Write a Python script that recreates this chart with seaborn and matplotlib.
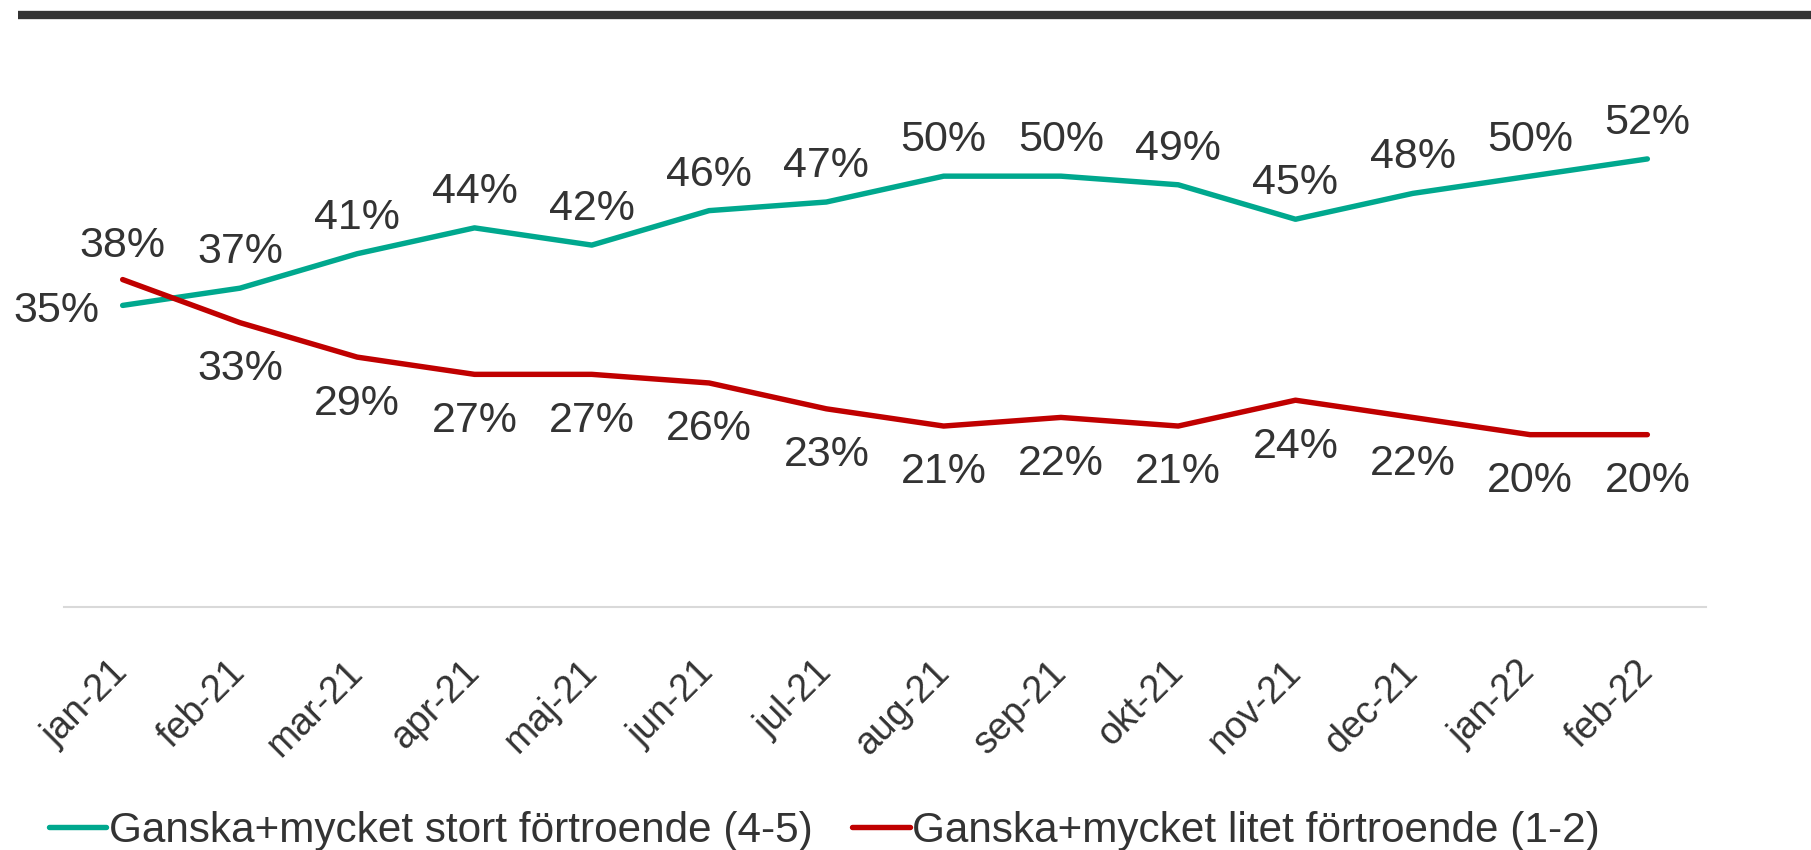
import matplotlib
matplotlib.use("Agg")

import pandas as pd
import matplotlib.pyplot as plt
from matplotlib.lines import Line2D
import seaborn as sns

MONTHS = ["jan-21", "feb-21", "mar-21", "apr-21", "maj-21", "jun-21", "jul-21",
          "aug-21", "sep-21", "okt-21", "nov-21", "dec-21", "jan-22", "feb-22"]
STORT = [35, 37, 41, 44, 42, 46, 47, 50, 50, 49, 45, 48, 50, 52]
LITET = [38, 33, 29, 27, 27, 26, 23, 21, 22, 21, 24, 22, 20, 20]
SERIES = ["Ganska+mycket stort förtroende (4-5)", "Ganska+mycket litet förtroende (1-2)"]
COLORS = ["#00A88E", "#C00000"]
TEXT = "#333333"

W, H = 1811, 850

df = pd.DataFrame({
    "month": MONTHS * 2,
    "value": STORT + LITET,
    "series": [SERIES[0]] * len(MONTHS) + [SERIES[1]] * len(MONTHS),
})

sns.set_theme(style="white")
plt.rcParams["font.family"] = ["Liberation Sans", "DejaVu Sans"]
plt.rcParams["text.color"] = TEXT

fig = plt.figure(figsize=(W / 100, H / 100), dpi=100)
ax = fig.add_axes([64 / W, 1 - 607 / H, (1706 - 64) / W, 517 / H])

sns.lineplot(data=df, x="month", y="value", hue="series", hue_order=SERIES,
             palette=COLORS, sort=False, linewidth=3.9, legend=False, ax=ax)
for line in ax.lines:
    line.set_solid_capstyle("round")

ax.set_xlim(-0.5, len(MONTHS) - 0.5)
ax.set_ylim(0, 60)
ax.set_xlabel("")
ax.set_ylabel("")
ax.set_yticks([])
for side in ["top", "left", "right"]:
    ax.spines[side].set_visible(False)
ax.spines["bottom"].set_color("#D9D9D9")
ax.spines["bottom"].set_linewidth(1.5)

ax.tick_params(axis="x", length=0, pad=43, labelsize=27, labelcolor=TEXT)
for lbl in ax.get_xticklabels():
    lbl.set_rotation(45)
    lbl.set_ha("right")
    lbl.set_va("center")
    lbl.set_rotation_mode("anchor")

# data labels: green above, red below (first month shifted to avoid overlap)
LABEL_SIZE = 31
for i, v in enumerate(STORT):
    if i == 0:
        ax.annotate(f"{v}%", (i, v), xytext=(-17, -12), textcoords="offset points",
                    ha="right", va="baseline", fontsize=LABEL_SIZE, color=TEXT)
    else:
        ax.annotate(f"{v}%", (i, v), xytext=(0, 18), textcoords="offset points",
                    ha="center", va="baseline", fontsize=LABEL_SIZE, color=TEXT)
for i, v in enumerate(LITET):
    if i == 0:
        ax.annotate(f"{v}%", (i, v), xytext=(0, 16), textcoords="offset points",
                    ha="center", va="baseline", fontsize=LABEL_SIZE, color=TEXT)
    else:
        ax.annotate(f"{v}%", (i, v), xytext=(0, -19), textcoords="offset points",
                    ha="center", va="top", fontsize=LABEL_SIZE, color=TEXT)

# heavy rule at the top
fig.add_artist(Line2D([18 / W, 1], [1 - 14.5 / H, 1 - 14.5 / H], transform=fig.transFigure,
                      color="#333333", linewidth=6, solid_capstyle="butt"))

handles = [Line2D([], [], color=c, linewidth=3.9, solid_capstyle="round") for c in COLORS]
fig.legend(handles, SERIES, loc="center left", bbox_to_anchor=(49 / W, 1 - 831 / H),
           ncol=2, frameon=False, fontsize=30.4, handlelength=1.36, handletextpad=0.05,
           columnspacing=0.95, borderpad=0, borderaxespad=0, labelcolor=TEXT)

fig.savefig("out.png", dpi=100)
